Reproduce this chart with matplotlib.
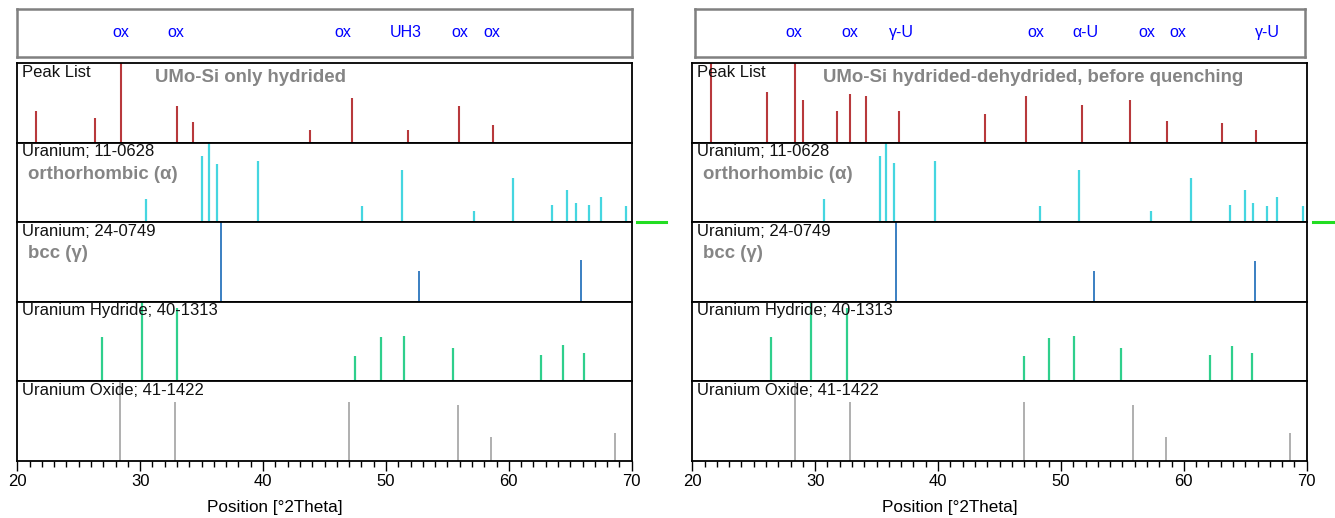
import matplotlib
matplotlib.use("Agg")
import matplotlib.pyplot as plt
from matplotlib.lines import Line2D
from matplotlib.ticker import MultipleLocator

plt.rcParams['font.family'] = ['Liberation Sans', 'DejaVu Sans']

# --- data (2theta in degrees, relative intensity in %) ---
x_ticks = [20, 30, 40, 50, 60, 70]

# left: UMo-Si only hydrided
peaks_l_pos = [21.52, 26.32, 28.44, 33.02, 34.30, 43.82, 47.22, 51.79, 55.97, 58.74]
peaks_l_int = [39, 31, 100, 46, 26, 16, 56, 16, 46, 22]
alpha_l_pos = [30.45, 35.06, 35.60, 36.23, 39.56, 48.08, 51.31, 57.14, 60.31, 63.54,
               64.73, 65.44, 66.50, 67.50, 69.54]
alpha_l_int = [29, 83, 100, 73, 77, 20, 66, 14, 55, 22, 40, 24, 21, 32, 20]
gamma_l_pos = [36.55, 52.67, 65.88]
gamma_l_int = [100, 38, 52]
hyd_l_pos = [26.86, 30.17, 33.02, 47.46, 49.57, 51.47, 55.43, 62.59, 64.38, 66.09]
hyd_l_int = [55, 100, 92, 32, 55, 56, 42, 33, 45, 35]
ox_l_pos = [28.33, 32.81, 47.00, 55.87, 58.53, 68.67]
ox_l_int = [100, 73, 73, 70, 30, 34]
marks_l_pos = [28.45, 32.9, 46.5, 51.6, 56.0, 58.6]
marks_l_txt = ['ox', 'ox', 'ox', 'UH3', 'ox', 'ox']

# right: UMo-Si hydrided-dehydrided, before quenching
peaks_r_pos = [21.52, 26.10, 28.36, 28.98, 31.78, 32.81, 34.11, 36.80, 43.82, 47.13,
               51.71, 55.65, 58.63, 63.11, 65.90]
peaks_r_int = [100, 63, 100, 53, 40, 61, 58, 40, 36, 59, 47, 54, 27, 24, 16]
alpha_r_pos = [30.69, 35.28, 35.79, 36.44, 39.78, 48.32, 51.49, 57.35, 60.56, 63.76,
               64.95, 65.61, 66.75, 67.61, 69.70]
alpha_r_int = [29, 83, 100, 74, 77, 20, 66, 14, 55, 22, 40, 24, 20, 32, 20]
gamma_r_pos = [36.55, 52.67, 65.79]
gamma_r_int = [100, 38, 51]
hyd_r_pos = [26.40, 29.63, 32.61, 47.02, 49.03, 51.06, 54.91, 62.16, 63.90, 65.57]
hyd_r_int = [55, 100, 92, 31, 54, 56, 41, 33, 44, 35]
ox_r_pos = [28.33, 32.81, 47.00, 55.87, 58.53, 68.67]
ox_r_int = [100, 73, 73, 70, 30, 34]
marks_r_pos = [28.3, 32.8, 37.05, 47.94, 52.03, 56.96, 59.52, 66.84]
marks_r_txt = ['ox', 'ox', 'γ-U', 'ox', 'α-U', 'ox', 'ox', 'γ-U']

titles = ['UMo-Si only hydrided', 'UMo-Si hydrided-dehydrided, before quenching']
ref_names = ['Peak List', 'Uranium; 11-0628', 'Uranium; 24-0749',
             'Uranium Hydride; 40-1313', 'Uranium Oxide; 41-1422']
phase_names = [None, 'orthorhombic (α)', 'bcc (γ)', None, None]
colors = ['#b8393c', '#45d6e0', '#3a7fc2', '#2fcf8c', '#9a9a9a']
widths = [1.5, 1.6, 1.4, 1.6, 1.1]

W, H = 1335, 518
fig = plt.figure(figsize=(W / 100, H / 100), dpi=100)


def rect(x0, y0, x1, y1):
    # pixel box (top-left origin) -> figure fraction
    return [x0 / W, 1 - y1 / H, (x1 - x0) / W, (y1 - y0) / H]


edges = [63, 142.5, 222, 301.5, 381, 460.5]
panels = [
    (17.3, 631.7, 17, 632, [(peaks_l_pos, peaks_l_int), (alpha_l_pos, alpha_l_int),
                           (gamma_l_pos, gamma_l_int), (hyd_l_pos, hyd_l_int),
                           (ox_l_pos, ox_l_int)], marks_l_pos, marks_l_txt, titles[0], 155),
    (692.3, 1306.7, 695, 1305, [(peaks_r_pos, peaks_r_int), (alpha_r_pos, alpha_r_int),
                               (gamma_r_pos, gamma_r_int), (hyd_r_pos, hyd_r_int),
                               (ox_r_pos, ox_r_int)], marks_r_pos, marks_r_txt, titles[1], 823),
]

for x0, x1, bx0, bx1, series, mpos, mtxt, title, tx in panels:
    # marker box on top
    box = fig.add_axes(rect(bx0, 9, bx1, 57))
    box.set_xlim(20 + (bx0 - x0) / 12.288, 20 + (bx1 - x0) / 12.288)
    box.set_ylim(0, 1)
    box.set_xticks([])
    box.set_yticks([])
    for sp in box.spines.values():
        sp.set_color('#808080')
        sp.set_linewidth(1.8)
    for p, t in zip(mpos, mtxt):
        box.text(p, 0.52, t, color='#0000ff', fontsize=11.5, ha='center', va='center')

    for i, (pos, inten) in enumerate(series):
        ax = fig.add_axes(rect(x0, edges[i], x1, edges[i + 1]))
        ax.vlines(pos, 0, inten, colors=colors[i], linewidth=widths[i])
        ax.set_xlim(20, 70)
        ax.set_ylim(0, 100)
        ax.set_yticks([])
        for sp in ax.spines.values():
            sp.set_linewidth(1.3)
        ax.text(0.008, 0.975, ref_names[i], transform=ax.transAxes, fontsize=12,
                ha='left', va='top', color='#111111')
        if phase_names[i]:
            ax.text(0.017, 0.6, phase_names[i], transform=ax.transAxes, fontsize=13.4,
                    fontweight='bold', color='#858585', ha='left', va='center')
        if i == 0:
            ax.text((tx - x0) / (x1 - x0), 0.82, title, transform=ax.transAxes,
                    fontsize=13.4, fontweight='bold', color='#858585', ha='left', va='center')
        if i < 4:
            ax.set_xticks([])
        else:
            ax.set_xticks(x_ticks)
            ax.xaxis.set_minor_locator(MultipleLocator(1))
            ax.tick_params(axis='x', which='major', direction='out', length=7.5,
                           width=1, labelsize=12, pad=2)
            ax.tick_params(axis='x', which='minor', direction='out', length=4, width=1)
            ax.text(0.419, -0.585, 'Position [°2Theta]', transform=ax.transAxes,
                    fontsize=12.3, ha='center', va='center')

# green markers at the right of each panel
fig.add_artist(Line2D([637 / W, 666 / W], [1 - 221.5 / H] * 2, color='#22dd22', linewidth=2.2))
fig.add_artist(Line2D([1313 / W, 1335 / W], [1 - 221.5 / H] * 2, color='#22dd22', linewidth=2.2))

fig.savefig('out.png', dpi=100)
